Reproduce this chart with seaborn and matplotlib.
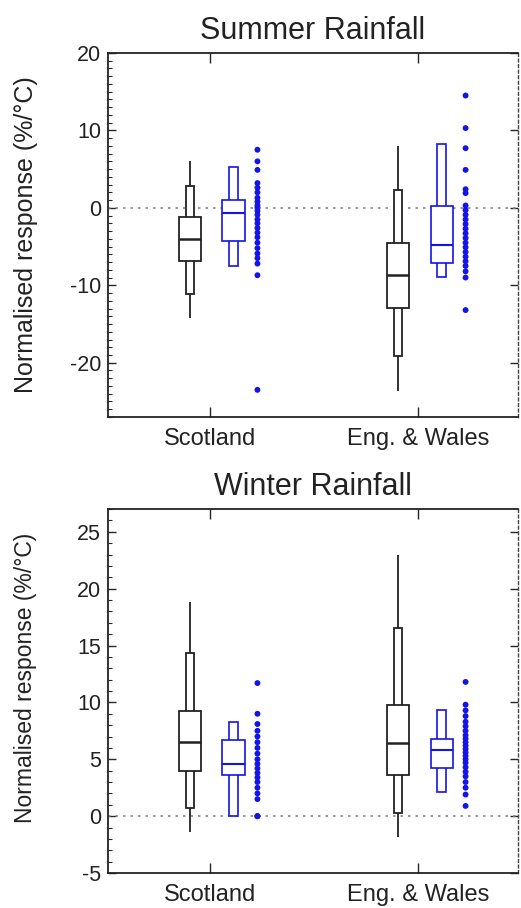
import numpy as np
import pandas as pd
import seaborn as sns
import matplotlib.pyplot as plt
from matplotlib.ticker import MultipleLocator

regions = ['Scotland', 'Eng. & Wales']

# model ensemble (black): whisker lo, narrow lo, box lo, median, box hi, narrow hi, whisker hi
summer_black = [[-14.2, -11.1, -6.9, -4.0, -1.2, 2.8, 6.0],
                [-23.6, -19.1, -12.9, -8.7, -4.5, 2.3, 8.0]]
winter_black = [[-1.4, 0.7, 4.0, 6.5, 9.25, 14.3, 18.8],
                [-1.8, 0.3, 3.6, 6.4, 9.8, 16.5, 23.0]]

# second ensemble (blue): narrow lo, box lo, median, box hi, narrow hi
summer_blue = [[-7.5, -4.3, -0.7, 0.95, 5.3],
               [-8.9, -7.1, -4.8, 0.2, 8.3]]
winter_blue = [[0.0, 3.6, 4.55, 6.7, 8.3],
               [2.15, 4.2, 5.8, 6.8, 9.3]]

# individual members (blue dots)
summer_dots_sco = [7.5, 6.0, 4.9, 3.2, 2.6, 2.0, 1.3, 0.8, 0.3, 0.0, -0.4, -0.9, -1.5,
                   -2.0, -2.6, -3.2, -3.8, -4.5, -5.2, -5.9, -6.5, -7.2, -8.7, -23.5]
summer_dots_eng = [14.5, 10.3, 7.7, 4.9, 2.4, 1.9, 0.3, -0.3, -0.9, -1.5, -2.1, -2.7,
                   -3.3, -3.9, -4.5, -5.1, -5.7, -6.3, -6.9, -7.5, -8.2, -9.0, -13.2]
winter_dots_sco = [11.7, 9.0, 8.1, 7.5, 7.0, 6.5, 6.0, 5.5, 5.0, 4.6, 4.2, 3.8, 3.4,
                   3.0, 2.5, 2.0, 1.5, 0.0, 0.0, 0.0]
winter_dots_eng = [11.8, 9.8, 9.3, 8.8, 8.3, 7.9, 7.5, 7.1, 6.8, 6.5, 6.2, 5.9, 5.6,
                   5.3, 5.0, 4.7, 4.3, 3.9, 3.5, 3.0, 2.5, 1.9, 0.9]

BLUE = '#1414e6'
DARK = '#222222'
FONT = ['Liberation Sans', 'DejaVu Sans']

sns.set_theme(style='ticks')
plt.rcParams['font.family'] = FONT
plt.rcParams['axes.unicode_minus'] = False


def draw_panel(ax, black, blue, dots, title, ylim, major, ylab_size, ylab_y):
    pos = np.arange(len(regions))
    b = pd.DataFrame(black, columns=['wlo', 'nlo', 'blo', 'med', 'bhi', 'nhi', 'whi'])
    b['x'] = pos - 0.097
    u = pd.DataFrame(blue, columns=['nlo', 'blo', 'med', 'bhi', 'nhi'])
    u['x'] = pos + 0.113

    # black: whisker, narrow box, wide box, median
    ax.vlines(b['x'], b['wlo'], b['whi'], color=DARK, lw=1.3, zorder=2)
    ax.bar(b['x'], b['nhi'] - b['nlo'], bottom=b['nlo'], width=0.04,
           facecolor='white', edgecolor=DARK, lw=1.3, zorder=3)
    ax.bar(b['x'], b['bhi'] - b['blo'], bottom=b['blo'], width=0.106,
           facecolor='white', edgecolor=DARK, lw=1.3, zorder=4)
    ax.hlines(b['med'], b['x'] - 0.053, b['x'] + 0.053, color=DARK, lw=1.8, zorder=5)

    # blue: narrow box, wide box, median
    ax.bar(u['x'], u['nhi'] - u['nlo'], bottom=u['nlo'], width=0.043,
           facecolor='white', edgecolor=BLUE, lw=1.2, zorder=3)
    ax.bar(u['x'], u['bhi'] - u['blo'], bottom=u['blo'], width=0.106,
           facecolor='white', edgecolor=BLUE, lw=1.2, zorder=4)
    ax.hlines(u['med'], u['x'] - 0.053, u['x'] + 0.053, color=BLUE, lw=1.5, zorder=5)

    # dots
    d = pd.concat([pd.DataFrame({'x': p + 0.228, 'val': v}) for p, v in zip(pos, dots)])
    sns.scatterplot(data=d, x='x', y='val', ax=ax, color=BLUE, s=18,
                    edgecolor='none', zorder=6, legend=False)

    ax.axhline(0, color='#888888', ls=(0, (1.5, 3)), lw=1.2, zorder=1)

    ax.set_xlim(-0.49, 1.48)
    ax.set_ylim(*ylim)
    ax.set_xticks(pos)
    ax.set_xticklabels(regions, fontsize=17, color='#222222')
    ax.yaxis.set_major_locator(MultipleLocator(major))
    ax.yaxis.set_minor_locator(MultipleLocator(1))
    ax.tick_params(axis='y', which='major', direction='in', length=6, width=1,
                   labelsize=15.5, labelcolor='#222222', left=True, right=True, pad=5)
    ax.tick_params(axis='y', which='minor', direction='in', length=3, width=0.8,
                   left=True, right=False)
    ax.tick_params(axis='x', which='major', direction='in', length=7, width=1,
                   top=True, bottom=True, pad=8)
    ax.set_xlabel('')
    ax.set_ylabel('Normalised response (%/°C)', fontsize=ylab_size, color='#222222')
    ax.yaxis.label.set_verticalalignment('center')
    ax.yaxis.set_label_coords(-0.2, ylab_y)
    ax.set_title(title, fontsize=22, color='#222222', pad=10)
    for s in ['left', 'bottom', 'top']:
        ax.spines[s].set_color('#222222')
        ax.spines[s].set_linewidth(1.3)
    ax.spines['right'].set_linestyle((0, (2, 2)))
    ax.spines['right'].set_color('#444444')
    ax.spines['right'].set_linewidth(1.0)


fig = plt.figure(figsize=(5.21, 9.08), dpi=100)
ax1 = fig.add_axes([0.2073, 0.5408, 0.787, 0.4009])
ax2 = fig.add_axes([0.2073, 0.0385, 0.787, 0.4009])

draw_panel(ax1, summer_black, summer_blue, [summer_dots_sco, summer_dots_eng],
           'Summer Rainfall', (-27, 20), 10, 18, 0.5)
draw_panel(ax2, winter_black, winter_blue, [winter_dots_sco, winter_dots_eng],
           'Winter Rainfall', (-5, 27), 5, 16.5, 0.536)

fig.savefig('out.png', dpi=100)
